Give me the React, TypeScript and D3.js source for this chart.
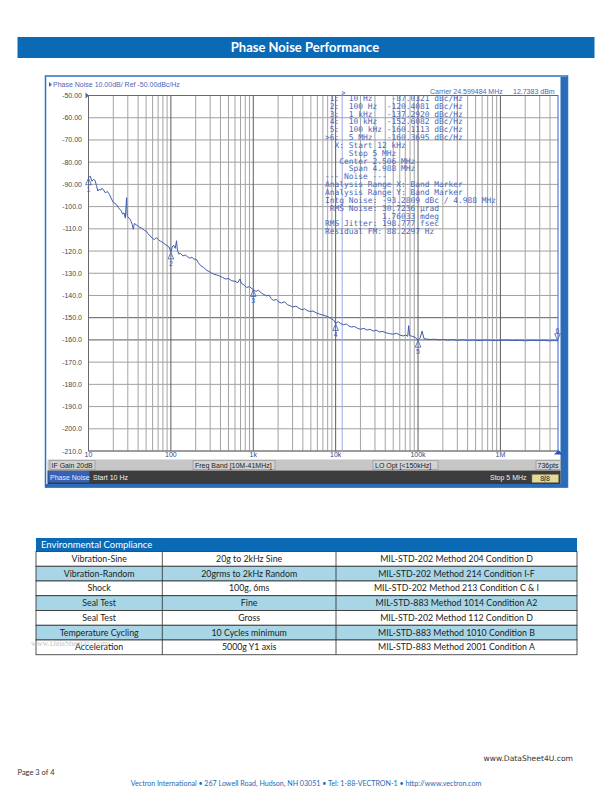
import React from 'react';
import * as d3 from 'd3';

// ---------- Phase noise trace (frequency offset in Hz, dBc/Hz) ----------
const FREQ_HZ = [
  // 10 Hz - 100 Hz
  10, 10.5, 11, 11.5, 12, 12.5, 13, 13.5, 14, 14.5,
  15, 16, 17, 18, 19, 20, 21, 22, 23, 24,
  25, 26, 27, 28, 29, 29.5, 30, 32, 33, 34,
  35, 36, 38, 40, 42, 44, 46, 48, 50, 53,
  56, 60, 63, 67, 71, 75, 80, 85, 90, 95,
  // 100 Hz - 1 kHz
  100, 104, 108, 113, 117, 120, 125, 130, 140, 150,
  160, 170, 180, 190, 205, 215, 230, 250, 270, 290,
  310, 330, 360, 390, 420, 460, 500, 550, 600, 650,
  690, 720, 780, 830, 900, 950,
  // 1 kHz - 10 kHz
  1000, 1080, 1150, 1250, 1350, 1450, 1550, 1650, 1750, 1900,
  2050, 2200, 2400, 2600, 2800, 3000, 3300, 3600, 3900, 4200,
  4500, 4900, 5300, 5800, 6400, 7000, 7600, 8300, 9000, 9500,
  // 10 kHz - 100 kHz
  10000, 10700, 11500, 12500, 13500, 14500, 15500, 17000, 18500, 20000,
  22000, 24000, 26000, 28500, 31000, 34000, 37500, 41000, 45000, 50000,
  55000, 60000, 66000, 71000, 75000, 77000, 79000, 85000, 92000,
  // 100 kHz - 5 MHz
  100000, 106000, 112000, 118000, 125000, 140000, 160000, 180000, 200000, 230000,
  260000, 300000, 350000, 400000, 470000, 550000, 650000, 750000, 870000, 1000000,
  1200000, 1400000, 1700000, 2000000, 2400000, 2800000, 3300000, 3900000, 4500000, 5000000,
];

const PN_DBC = [
  // 10 Hz - 100 Hz
  -87.0, -86.3, -88.6, -87.8, -88.2, -90.5, -93.0, -92.2, -92.6, -91.8,
  -92.2, -93.8, -93.2, -94.6, -96.5, -98.2, -98.6, -99.2, -100.4, -101.2,
  -102.0, -103.4, -102.8, -105.2, -96.0, -104.0, -104.6, -105.8, -106.8, -108.2,
  -110.2, -107.6, -108.2, -108.8, -109.4, -109.6, -110.2, -110.8, -111.0, -112.2,
  -113.2, -114.4, -114.8, -114.0, -115.0, -115.6, -116.2, -117.0, -117.6, -118.2,
  // 100 Hz - 1 kHz
  -120.4, -118.2, -117.4, -118.8, -115.4, -119.6, -121.4, -121.0, -122.2, -121.8,
  -122.6, -123.2, -122.8, -123.6, -123.8, -125.2, -126.6, -127.4, -128.6, -129.2,
  -129.8, -130.4, -130.8, -131.2, -131.8, -132.6, -132.4, -133.4, -133.6, -134.2,
  -132.6, -134.6, -135.4, -136.4, -136.0, -136.8,
  // 1 kHz - 10 kHz
  -137.3, -138.2, -137.6, -138.8, -139.6, -140.2, -139.8, -141.4, -142.2, -141.8,
  -143.0, -143.4, -142.8, -144.2, -144.6, -145.2, -144.8, -145.8, -146.4, -146.0,
  -146.8, -147.2, -147.0, -147.8, -148.4, -148.8, -149.2, -149.8, -150.6, -151.2,
  // 10 kHz - 100 kHz
  -152.6, -151.8, -152.6, -153.2, -152.8, -153.8, -154.2, -154.0, -154.8, -155.2,
  -154.8, -155.6, -155.2, -156.0, -155.6, -156.4, -156.2, -156.8, -157.2, -157.4,
  -157.0, -157.8, -158.2, -157.8, -158.4, -153.6, -158.0, -158.4, -158.8,
  // 100 kHz - 5 MHz
  -160.1, -159.2, -156.0, -159.4, -159.6, -159.8, -159.7, -160.0, -159.8, -160.1,
  -159.9, -160.2, -160.0, -160.2, -160.1, -160.3, -160.1, -160.2, -160.3, -160.2,
  -160.1, -160.3, -160.2, -160.4, -160.2, -160.3, -160.2, -160.4, -160.3, -160.37,
];

const MARKER_FREQ = [10, 100, 1000, 10000, 100000, 5000000];
const MARKER_DBC = [-87.0321, -120.4081, -137.292, -152.6082, -160.1113, -160.3695];
const MARKER_LABELS = ['1', '2', '3', '4', '5', '6'];

const Y_TICKS = [-50, -60, -70, -80, -90, -100, -110, -120, -130, -140, -150, -160, -170, -180, -190, -200, -210];
const X_TICKS = [10, 100, 1000, 10000, 100000, 1000000];
const X_TICK_LABELS = ['10', '100', '1k', '10k', '100k', '1M'];
const BAND_START_HZ = 12000;
const BAND_STOP_HZ = 5000000;

const MARKER_TABLE_LINES = [
  ' 1:  10 Hz    -87.0321 dBc/Hz',
  ' 2:  100 Hz  -120.4081 dBc/Hz',
  ' 3:  1 kHz   -137.2920 dBc/Hz',
  ' 4:  10 kHz  -152.6082 dBc/Hz',
  ' 5:  100 kHz -160.1113 dBc/Hz',
  '>6:  5 MHz   -160.3695 dBc/Hz',
  '  X: Start 12 kHz',
  '     Stop 5 MHz',
  '   Center 2.506 MHz',
  '     Span 4.988 MHz',
  '--- Noise ---',
  'Analysis Range X: Band Marker',
  'Analysis Range Y: Band Marker',
  'Intg Noise: -93.2809 dBc / 4.988 MHz',
  ' RMS Noise: 30.7236 \u00b5rad',
  '            1.76033 mdeg',
  'RMS Jitter: 198.777 fsec',
  'Residual FM: 88.2297 Hz',
];

// ---------- Environmental compliance table ----------
const ENV_TESTS = ['Vibration-Sine', 'Vibration-Random', 'Shock', 'Seal Test', 'Seal Test', 'Temperature Cycling', 'Acceleration'];
const ENV_CONDITIONS = ['20g to 2kHz Sine', '20grms to 2kHz Random', '100g, 6ms', 'Fine', 'Gross', '10 Cycles minimum', '5000g Y1 axis'];
const ENV_METHODS = [
  'MIL-STD-202 Method 204 Condition D',
  'MIL-STD-202 Method 214 Condition I-F',
  'MIL-STD-202 Method 213 Condition C & I',
  'MIL-STD-883 Method 1014 Condition A2',
  'MIL-STD-202 Method 112 Condition D',
  'MIL-STD-883 Method 1010 Condition B',
  'MIL-STD-883 Method 2001 Condition A',
];

const BLUE = '#0a6ab6';
const TRACE = '#3d5cb3';
const TXT_BLUE = '#4a66b8';
const SANS = "'Liberation Sans', Arial, sans-serif";
const MYR = "Lato, 'Open Sans', sans-serif";

export default function App() {
  const PL = 88.5, PR = 558, PT = 95.5, PB = 451;
  const x = d3.scaleLog().domain([10, 5e6]).range([PL, PR]);
  const y = d3.scaleLinear().domain([-50, -210]).range([PT, PB]);
  const line = d3.line<number>().x((_, i) => x(FREQ_HZ[i])).y((d) => y(d));
  const tracePath = line(PN_DBC) || '';

  const gridFreqs: { f: number; major: boolean }[] = [];
  for (let e = 1; e <= 6; e++) {
    for (let k = 1; k <= 9; k++) {
      const f = k * Math.pow(10, e);
      if (f < 5e6) gridFreqs.push({ f, major: k === 1 });
    }
  }

  // table geometry
  const tX = [36, 162.3, 336, 577];
  const tHeadY = 538, tHeadH = 13.5;
  const rowH = 14.75;
  const rowsY0 = tHeadY + tHeadH;

  return (
    <svg width={612} height={792} style={{ position: 'absolute', left: 0, top: 0, background: '#fff' }}>
      <rect x={0} y={0} width={612} height={792} fill="#fff" />
      {/* Page header */}
      <rect x={17.5} y={37} width={577} height={21} fill={BLUE} />
      <text x={305} y={51.5} textAnchor="middle" fill="#fff" fontFamily={MYR} fontWeight={700} fontSize={13}>
        Phase Noise Performance
      </text>

      {/* Analyzer window */}
      <rect x={45.5} y={76} width={522} height={411} fill="#fff" stroke="#2b72c4" strokeWidth={1.5} />
      <rect x={560.5} y={77} width={6.5} height={409} fill="#2a6cb8" />
      <rect x={45} y={484} width={522} height={3.5} fill="#2a6cb8" />

      {/* title line */}
      <path d="M49,82 L52,84.5 L49,87 Z" fill={TXT_BLUE} />
      <text x={53} y={87.3} fill={TXT_BLUE} fontFamily={SANS} fontSize={7}>
        Phase Noise 10.00dB/ Ref -50.00dBc/Hz
      </text>
      <text x={430} y={93.5} fill={TXT_BLUE} fontFamily={SANS} fontSize={7}>Carrier 24.599484 MHz</text>
      <text x={513} y={93.5} fill={TXT_BLUE} fontFamily={SANS} fontSize={7}>12.7383 dBm</text>

      {/* grid */}
      {Y_TICKS.map((v) => (
        <line key={'h' + v} x1={PL} x2={PR} y1={y(v)} y2={y(v)}
          stroke={v === -150 || v === -160 ? '#5a5a5a' : '#a0a0a0'} strokeWidth={1} />
      ))}
      {gridFreqs.map((g) => (
        <line key={'v' + g.f} x1={x(g.f)} x2={x(g.f)} y1={PT} y2={PB}
          stroke={g.major ? '#5e5e5e' : '#a4a4a4'} strokeWidth={1} />
      ))}
      <rect x={PL} y={PT} width={PR - PL} height={PB - PT} fill="none" stroke="#6a6a6a" strokeWidth={1} />

      {/* band marker lines */}
      <line x1={x(BAND_START_HZ)} x2={x(BAND_START_HZ)} y1={PT - 3} y2={PB} stroke="#9aa8e6" strokeWidth={1} />
      <path d={`M${x(BAND_START_HZ)},${PT - 4} l3,1.5 l-3,1.5`} fill="none" stroke={TXT_BLUE} strokeWidth={0.8} />
      <line x1={x(BAND_STOP_HZ) + 0.5} x2={x(BAND_STOP_HZ) + 0.5} y1={PT} y2={PB} stroke="#9aa8e6" strokeWidth={1} />
      <path d={`M${x(BAND_STOP_HZ) - 4},${PB + 3.5} L${x(BAND_STOP_HZ) + 0.5},${PB - 1} L${x(BAND_STOP_HZ) + 5},${PB + 3.5} Z`} fill="#2f55b0" />

      {/* marker table text */}
      {MARKER_TABLE_LINES.map((s, i) => (
        <text key={'mt' + i} x={325} y={100.8 + i * 7.85} fill={TXT_BLUE}
          fontFamily="'DejaVu Sans Mono', monospace" fontSize={7.9} style={{ whiteSpace: 'pre' }}>
          {s}
        </text>
      ))}

      {/* y tick labels */}
      {Y_TICKS.map((v) => (
        <text key={'yl' + v} x={82} y={y(v) + 2.5} textAnchor="end" fill="#4a4a4a" fontFamily={SANS} fontSize={7}>
          {v > -100 ? v.toFixed(2) : v.toFixed(1)}
        </text>
      ))}
      <path d={`M${PL - 3},${PT - 3} L${PL + 0.5},${PT} L${PL - 3},${PT + 3} Z`} fill={TXT_BLUE} />

      {/* x tick labels */}
      {X_TICKS.map((f, i) => (
        <text key={'xl' + f} x={x(f)} y={457} textAnchor="middle" fill="#3a4a80" fontFamily={SANS} fontSize={7}>
          {X_TICK_LABELS[i]}
        </text>
      ))}

      {/* trace */}
      <path d={tracePath} fill="none" stroke={TRACE} strokeWidth={1} strokeLinejoin="round" />

      {/* markers */}
      {MARKER_FREQ.map((f, i) => {
        const mx = Math.min(x(f), PR - 0.5);
        const my = y(MARKER_DBC[i]);
        if (i === 5) {
          return (
            <g key={'mk' + i}>
              <path d={`M${mx - 2.8},${my - 7} L${mx + 2.8},${my - 7} L${mx},${my - 0.5} Z`} fill="none" stroke={TRACE} strokeWidth={0.8} />
              <text x={mx} y={my - 8} textAnchor="middle" fill={TRACE} fontFamily={SANS} fontSize={7}>{MARKER_LABELS[i]}</text>
            </g>
          );
        }
        return (
          <g key={'mk' + i}>
            <path d={`M${mx},${my + 0.5} L${mx + 2.8},${my + 7} L${mx - 2.8},${my + 7} Z`} fill="none" stroke={TRACE} strokeWidth={0.8} />
            <text x={mx} y={my + 14} textAnchor="middle" fill={TRACE} fontFamily={SANS} fontSize={7}>{MARKER_LABELS[i]}</text>
          </g>
        );
      })}

      {/* status bar (gray) */}
      <rect x={47.5} y={459.5} width={513} height={11} fill="#c6c6c6" />
      <rect x={50} y={460.5} width={45} height={9} fill="#d2d2d2" stroke="#8c8c8c" strokeWidth={0.6} />
      <text x={51.5} y={467.7} fill="#222" fontFamily={SANS} fontSize={7}>IF Gain 20dB</text>
      <rect x={193} y={460.5} width={82} height={9} fill="#d2d2d2" stroke="#8c8c8c" strokeWidth={0.6} />
      <text x={195} y={467.7} fill="#222" fontFamily={SANS} fontSize={7}>Freq Band [10M-41MHz]</text>
      <rect x={373} y={460.5} width={65} height={9} fill="#d2d2d2" stroke="#8c8c8c" strokeWidth={0.6} />
      <text x={375} y={467.7} fill="#222" fontFamily={SANS} fontSize={7}>LO Opt [&lt;150kHz]</text>
      <rect x={536} y={460.5} width={24.5} height={9} fill="#d2d2d2" stroke="#8c8c8c" strokeWidth={0.6} />
      <text x={537.5} y={467.7} fill="#222" fontFamily={SANS} fontSize={7}>736pts</text>

      {/* status bar (dark) */}
      <rect x={47.5} y={470.5} width={513} height={13.5} fill="#3c3c3c" />
      <rect x={48.3} y={471} width={41} height={11.5} fill="#3561b8" />
      <text x={50} y={479.8} fill="#e4ecff" fontFamily={SANS} fontSize={7}>Phase Noise</text>
      <text x={93} y={479.8} fill="#f0f0f0" fontFamily={SANS} fontSize={7}>Start 10 Hz</text>
      <text x={490} y={479.8} fill="#f0f0f0" fontFamily={SANS} fontSize={7}>Stop 5 MHz</text>
      <rect x={532} y={474.5} width={26.5} height={8} fill="#e4da98" stroke="#8a8a60" strokeWidth={0.5} />
      <line x1={545} x2={545} y1={474.5} y2={482.5} stroke="#6a6a50" strokeWidth={0.6} />
      <text x={545} y={481} textAnchor="middle" fill="#222" fontFamily={SANS} fontSize={7}>8/8</text>

      {/* Environmental compliance table */}
      <rect x={tX[0]} y={tHeadY} width={tX[3] - tX[0]} height={tHeadH} fill={BLUE} />
      <text x={41} y={tHeadY + 10} fill="#fff" fontFamily={MYR} fontSize={9.5}>Environmental Compliance</text>
      {ENV_TESTS.map((t, i) => {
        const ry = rowsY0 + i * rowH;
        return (
          <g key={'row' + i}>
            <rect x={tX[0]} y={ry} width={tX[3] - tX[0]} height={rowH}
              fill={i % 2 === 1 ? '#a8d6e6' : '#ffffff'} stroke="#2a2a2a" strokeWidth={0.8} />
            <line x1={tX[1]} x2={tX[1]} y1={ry} y2={ry + rowH} stroke="#2a2a2a" strokeWidth={0.8} />
            <line x1={tX[2]} x2={tX[2]} y1={ry} y2={ry + rowH} stroke="#2a2a2a" strokeWidth={0.8} />
            <text x={(tX[0] + tX[1]) / 2} y={ry + 10.3} textAnchor="middle" fill="#222" fontFamily={MYR} fontSize={8.8}>{t}</text>
            <text x={(tX[1] + tX[2]) / 2} y={ry + 10.3} textAnchor="middle" fill="#222" fontFamily={MYR} fontSize={8.8}>{ENV_CONDITIONS[i]}</text>
            <text x={(tX[2] + tX[3]) / 2} y={ry + 10.3} textAnchor="middle" fill="#222" fontFamily={MYR} fontSize={8.8}>{ENV_METHODS[i]}</text>
          </g>
        );
      })}
      <text x={31} y={646} fill="#bdbdbd" fontFamily="'Liberation Serif', serif" fontSize={8} opacity={0.85}>www.DataSheet4U.com</text>

      {/* footer */}
      <text x={483.5} y={761} fill="#333" fontFamily="'DejaVu Sans', sans-serif" fontSize={7.6}>www.DataSheet4U.com</text>
      <text x={17.5} y={775} fill="#333" fontFamily={MYR} fontSize={7.5}>Page 3 of 4</text>
      <text x={306} y={786} textAnchor="middle" fill="#1e68b4" fontFamily={MYR} fontSize={7.1}>
        Vectron International • 267 Lowell Road, Hudson, NH 03051 • Tel: 1-88-VECTRON-1 • http://www.vectron.com
      </text>
    </svg>
  );
}
